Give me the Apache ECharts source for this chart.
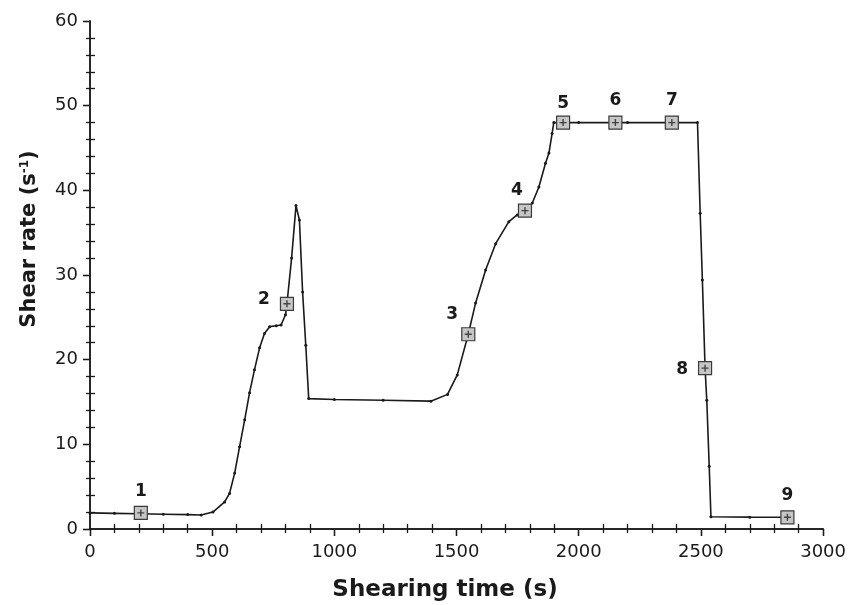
<!DOCTYPE html>
<html>
<head>
<meta charset="utf-8">
<script src="https://cdn.jsdelivr.net/npm/echarts@6/dist/echarts.min.js"></script>
<style>
  html, body { margin: 0; padding: 0; background: #fff; }
  #chart { width: 849px; height: 605px; }
</style>
</head>
<body>
<div id="chart"></div>
<script>
// curve
var time = [0, 100, 200, 300, 400, 455, 503, 551, 571, 592, 612, 633, 653, 673, 694, 714, 735, 762, 782, 800, 806, 825, 843, 857, 870, 883, 895,
  1000, 1200, 1395, 1463, 1503, 1548, 1578, 1619, 1660, 1714, 1748, 1780, 1810, 1837, 1864, 1878, 1891, 1898,
  2000, 2200, 2400, 2486, 2497, 2506, 2517, 2524, 2534, 2541, 2700, 2870];
var rate = [1.9, 1.85, 1.8, 1.75, 1.7, 1.65, 2.0, 3.2, 4.2, 6.6, 9.7, 12.9, 16.1, 18.8, 21.4, 23.1, 23.9, 24.0, 24.1, 25.3, 26.6, 32.0, 38.2, 36.5, 28.0, 21.7, 15.4,
  15.3, 15.2, 15.1, 15.9, 18.2, 23.0, 26.7, 30.6, 33.7, 36.3, 37.1, 37.6, 38.5, 40.4, 43.2, 44.4, 46.7, 48.0,
  48.0, 48.0, 48.0, 48.0, 37.3, 29.4, 19.0, 15.2, 7.4, 1.45, 1.4, 1.38];

// numbered sampling points
var markLabels = ['1', '2', '3', '4', '5', '6', '7', '8', '9'];
var markTime = [208, 806, 1548, 1780, 1936, 2150, 2381, 2517, 2854];
var markRate = [1.9, 26.6, 23.0, 37.6, 48.0, 48.0, 48.0, 19.0, 1.38];

var xTicks = [0, 500, 1000, 1500, 2000, 2500, 3000];
var yTicks = [0, 10, 20, 30, 40, 50, 60];

var font = 'DejaVu Sans';
var ink = '#1a1a1a';

var chart = echarts.init(document.getElementById('chart'));

var labelPos = {
  '2': { position: 'left', offset: [-4, -4] },
  '3': { position: 'left', offset: [3, -20] },
  '4': { position: 'top', offset: [-8, 2] },
  '5': { position: 'top', offset: [0, 3] },
  '8': { position: 'left', offset: [-4, 1] }
};

var markData = markTime.map(function (t, i) {
  var d = { value: [t, markRate[i]], name: markLabels[i] };
  if (labelPos[markLabels[i]]) d.label = labelPos[markLabels[i]];
  return d;
});

var xMin = xTicks[0], xMax = xTicks[xTicks.length - 1];
var yMin = yTicks[0], yMax = yTicks[yTicks.length - 1];
var tickStyle = { color: ink, width: 1.3 };
var lineOn = { show: true, lineStyle: { color: ink, width: 1.5 } };

function plain(v) { return String(v); }

// extra axis that only draws the inward minor ticks
function minorOnly(pos, isX) {
  return {
    type: 'value', position: pos,
    min: isX ? xMin : yMin, max: isX ? xMax : yMax, interval: isX ? 500 : 10,
    axisLine: { show: false },
    axisTick: { show: false, inside: true },
    minorTick: { show: true, splitNumber: 5, length: 5, lineStyle: tickStyle },
    splitLine: { show: false },
    axisLabel: { show: false }
  };
}

var option = {
  backgroundColor: '#fff',
  animation: false,
  grid: { left: 90, right: 24, top: 21, bottom: 76 },
  xAxis: [
    {
      type: 'value', position: 'bottom', min: xMin, max: xMax, interval: 500,
      axisLine: lineOn,
      axisTick: { show: true, inside: false, length: 7, lineStyle: tickStyle },
      splitLine: { show: false },
      axisLabel: { fontFamily: font, fontSize: 18, color: ink, margin: 14, formatter: plain }
    },
    {
      type: 'value', position: 'top', min: xMin, max: xMax, interval: 500,
      axisLine: lineOn,
      axisTick: { show: true, inside: true, length: 7, lineStyle: tickStyle },
      minorTick: { show: true, splitNumber: 5, length: 4, lineStyle: tickStyle },
      splitLine: { show: false },
      axisLabel: { show: false }
    },
    minorOnly('bottom', true)
  ],
  yAxis: [
    {
      type: 'value', position: 'left', min: yMin, max: yMax, interval: 10,
      axisLine: lineOn,
      axisTick: { show: true, inside: false, length: 7, lineStyle: tickStyle },
      splitLine: { show: false },
      axisLabel: { fontFamily: font, fontSize: 18, color: ink, margin: 12, formatter: plain }
    },
    {
      type: 'value', position: 'right', min: yMin, max: yMax, interval: 10,
      axisLine: lineOn,
      axisTick: { show: true, inside: true, length: 7, lineStyle: tickStyle },
      minorTick: { show: true, splitNumber: 5, length: 4, lineStyle: tickStyle },
      splitLine: { show: false },
      axisLabel: { show: false }
    },
    minorOnly('left', false)
  ],
  graphic: [
    {
      type: 'text', x: 445, y: 590,
      style: {
        text: 'Shearing time (s)', align: 'center', verticalAlign: 'middle',
        fontFamily: font, fontSize: 23, fontWeight: 'bold', fill: ink
      }
    },
    {
      type: 'text', x: 30, y: 239, rotation: Math.PI / 2,
      style: {
        text: 'Shear rate (s{sup|-1})', align: 'center', verticalAlign: 'middle',
        fontFamily: font, fontSize: 21, fontWeight: 'bold', fill: ink,
        rich: {
          sup: { fontFamily: font, fontSize: 12, fontWeight: 'bold', fill: ink, verticalAlign: 'top', padding: [0, 0, 10, 0] }
        }
      }
    }
  ],
  series: [
    {
      type: 'line',
      xAxisIndex: 0, yAxisIndex: 0,
      data: time.map(function (t, i) { return [t, rate[i]]; }),
      symbol: 'circle',
      symbolSize: 3,
      showAllSymbol: true,
      itemStyle: { color: ink },
      lineStyle: { color: ink, width: 1.6 },
      z: 2
    },
    {
      type: 'scatter',
      xAxisIndex: 0, yAxisIndex: 0,
      data: markData,
      symbol: 'rect',
      symbolSize: 13,
      itemStyle: { color: '#c6c6c6', borderColor: '#3a3a3a', borderWidth: 1.2, opacity: 1 },
      label: {
        show: true,
        position: 'top',
        distance: 6,
        formatter: '{b}',
        fontFamily: font, fontSize: 17, fontWeight: 'bold', color: ink
      },
      z: 3
    },
    {
      type: 'scatter',
      xAxisIndex: 0, yAxisIndex: 0,
      data: markTime.map(function (t, i) { return [t, markRate[i]]; }),
      symbol: 'path://M4,0H6V4H10V6H6V10H4V6H0V4H4Z',
      symbolSize: 7,
      itemStyle: { color: '#222' },
      silent: true,
      z: 4
    }
  ]
};

chart.setOption(option);
window.addEventListener('resize', chart.resize);
</script>
</body>
</html>
